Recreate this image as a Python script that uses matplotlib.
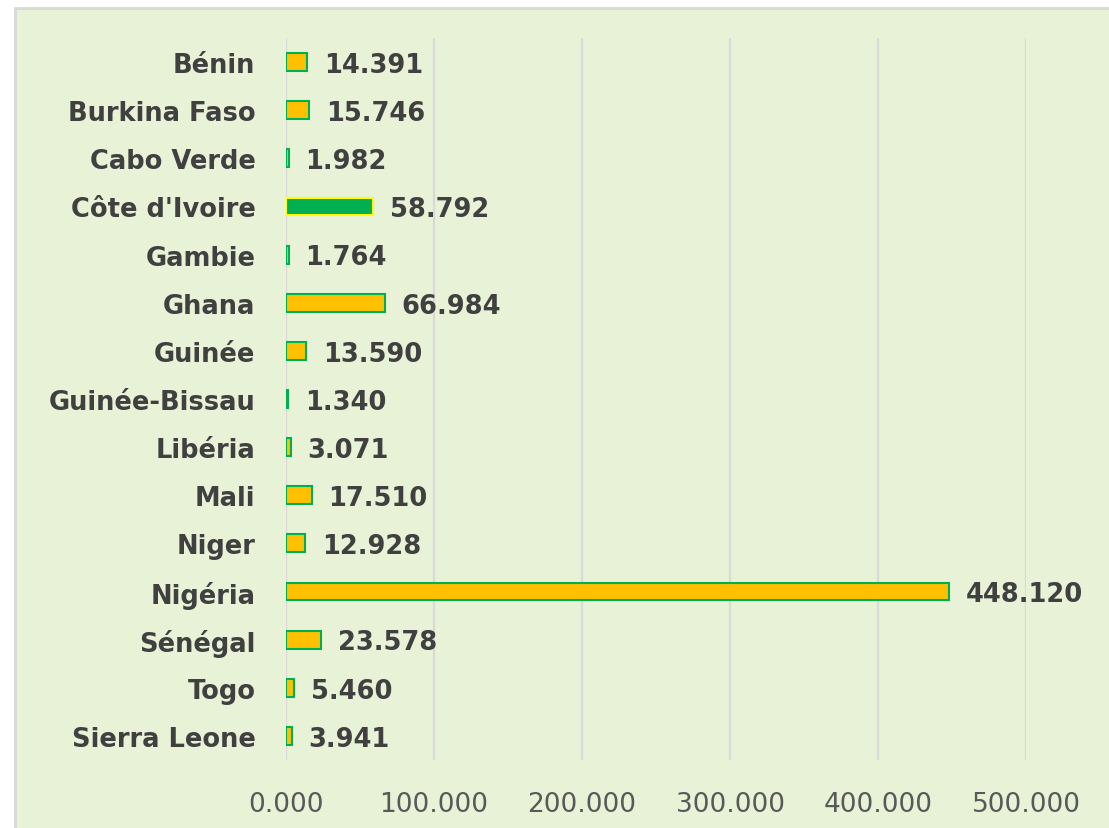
import matplotlib.pyplot as plt
from matplotlib.patches import Rectangle

countries = ["Bénin", "Burkina Faso", "Cabo Verde", "Côte d'Ivoire", "Gambie",
             "Ghana", "Guinée", "Guinée-Bissau", "Libéria", "Mali", "Niger",
             "Nigéria", "Sénégal", "Togo", "Sierra Leone"]
values = [14.391, 15.746, 1.982, 58.792, 1.764, 66.984, 13.590, 1.340,
          3.071, 17.510, 12.928, 448.120, 23.578, 5.460, 3.941]
highlight = "Côte d'Ivoire"
xticks = [0, 100, 200, 300, 400, 500]

bg = "#E8F2D6"
plt.rcParams['font.family'] = ['DejaVu Sans']

fig = plt.figure(figsize=(11.09, 8.29), dpi=100)
fig.patch.set_facecolor("white")
# chart area border: only the left and top edges are visible in the picture
fig.add_artist(Rectangle((15 / 1109, -0.05), 1.05, 1.05 - 9 / 829,
                         transform=fig.transFigure, facecolor=bg,
                         edgecolor="#D9D9D9", linewidth=2, zorder=0))

ax = fig.add_axes([286 / 1109, 1 - 761 / 829, (1026 - 286) / 1109, (761 - 39) / 829])
ax.patch.set_alpha(0)

ypos = list(range(len(countries)))
fills = ["#00B050" if c == highlight else "#FFC000" for c in countries]
edges = ["#FFFF00" if c == highlight else "#00B050" for c in countries]
ax.barh(ypos, values, height=0.37, color=fills, edgecolor=edges,
        linewidth=1.5, zorder=3)

for y, v in zip(ypos, values):
    ax.annotate(f"{v:.3f}", (v, y), xytext=(12, -2), textcoords="offset points",
                va="center", ha="left", fontsize=18.5, fontweight="bold",
                color="#404040", zorder=4)

ax.set_xlim(0, 500)
ax.set_ylim(len(countries) - 0.5, -0.5)
ax.set_xticks(xticks)
ax.set_xticklabels([f"{t:.3f}" for t in xticks], fontsize=19, color="#595959")
ax.set_yticks(ypos)
ax.set_yticklabels(countries, fontsize=18.5, fontweight="bold", color="#404040")
ax.tick_params(axis="both", length=0)
ax.tick_params(axis="x", pad=22)
ax.tick_params(axis="y", pad=22)
ax.grid(axis="x", color="#D9D9D9", linewidth=1.5, zorder=0)
for s in ax.spines.values():
    s.set_visible(False)

fig.savefig("out.png", dpi=100, facecolor=fig.get_facecolor())
